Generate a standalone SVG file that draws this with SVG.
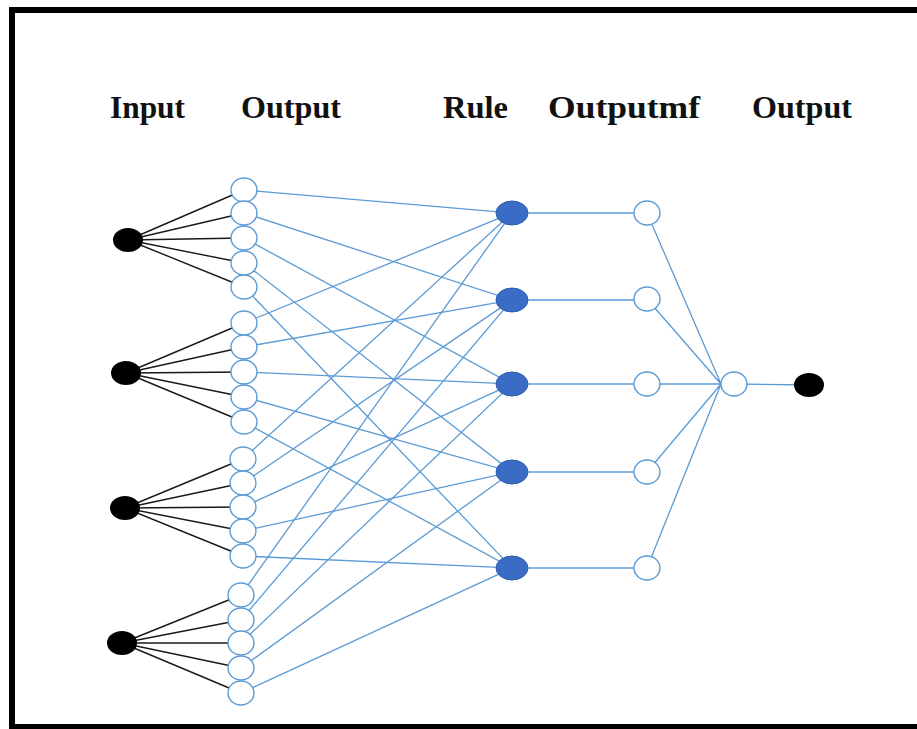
<svg xmlns="http://www.w3.org/2000/svg" width="917" height="729" viewBox="0 0 917 729">
<style>
.lbl{font-family:"Liberation Serif","Times New Roman",serif;font-weight:bold;font-size:31px;fill:#111}
.bl{stroke:#1a1a1a;stroke-width:1.4;fill:none}
.ln{stroke:#5b9bd5;stroke-width:1.3;fill:none}
.mf{fill:#fff;stroke:#5b9bd5;stroke-width:1.4}
.in{fill:#000}
.rule{fill:#3a6cc6;stroke:#2f5fb3;stroke-width:1}
</style>
<rect width="917" height="729" fill="#fff"/>
<path d="M917 10 H12 V727 H917" fill="none" stroke="#000" stroke-width="6"/>
<g id="labels">
<text class="lbl" x="110" y="118" textLength="75" lengthAdjust="spacingAndGlyphs">Input</text>
<text class="lbl" x="241" y="118" textLength="100" lengthAdjust="spacingAndGlyphs">Output</text>
<text class="lbl" x="443" y="118" textLength="65" lengthAdjust="spacingAndGlyphs">Rule</text>
<text class="lbl" x="548" y="118" textLength="152" lengthAdjust="spacingAndGlyphs">Outputmf</text>
<text class="lbl" x="752" y="118" textLength="100" lengthAdjust="spacingAndGlyphs">Output</text>
</g>
<g id="connectors">
<!-- input to MF (black) -->
<path class="bl" d="M128 240 L244 190 M128 240 L244 213 M128 240 L244 238 M128 240 L244 263 M128 240 L244 287"/>
<path class="bl" d="M126 373 L244 323 M126 373 L244 347 M126 373 L244 372 M126 373 L244 397 M126 373 L244 422"/>
<path class="bl" d="M125 508 L243 459 M125 508 L243 483 M125 508 L243 507 M125 508 L243 531 M125 508 L243 556"/>
<path class="bl" d="M122 643 L241 595 M122 643 L241 620 M122 643 L241 643 M122 643 L241 668 M122 643 L241 693"/>
<!-- MF to rules (blue) -->
<path class="ln" d="M244 190 L512 213 M244 213 L512 300 M244 238 L512 384 M244 263 L512 472 M244 287 L512 568"/>
<path class="ln" d="M244 323 L512 213 M244 347 L512 300 M244 372 L512 384 M244 397 L512 472 M244 422 L512 568"/>
<path class="ln" d="M243 459 L512 213 M243 483 L512 300 M243 507 L512 384 M243 531 L512 472 M243 556 L512 568"/>
<path class="ln" d="M241 595 L512 213 M241 620 L512 300 M241 643 L512 384 M241 668 L512 472 M241 693 L512 568"/>
<!-- rules to output mf -->
<path class="ln" d="M512 213 H647 M512 300 H647 M512 384 H647 M512 472 H647 M512 568 H647"/>
<!-- output mf to sum -->
<path class="ln" d="M647 213 L721 384 M647 299 L721 384 M647 384 L721 384 M647 472 L721 384 M647 568 L721 384"/>
<path class="ln" d="M734 384 L809 385"/>
</g>
<g id="inputs">
<ellipse id="in1" class="in" cx="128" cy="240" rx="15" ry="12"/>
<ellipse id="in2" class="in" cx="126" cy="373" rx="15" ry="12"/>
<ellipse id="in3" class="in" cx="125" cy="508" rx="15" ry="12"/>
<ellipse id="in4" class="in" cx="122" cy="643" rx="15" ry="12"/>
</g>
<g id="mfs">
<ellipse class="mf" cx="244" cy="190" rx="13" ry="12"/>
<ellipse class="mf" cx="244" cy="213" rx="13" ry="12"/>
<ellipse class="mf" cx="244" cy="238" rx="13" ry="12"/>
<ellipse class="mf" cx="244" cy="263" rx="13" ry="12"/>
<ellipse class="mf" cx="244" cy="287" rx="13" ry="12"/>
<ellipse class="mf" cx="244" cy="323" rx="13" ry="12"/>
<ellipse class="mf" cx="244" cy="347" rx="13" ry="12"/>
<ellipse class="mf" cx="244" cy="372" rx="13" ry="12"/>
<ellipse class="mf" cx="244" cy="397" rx="13" ry="12"/>
<ellipse class="mf" cx="244" cy="422" rx="13" ry="12"/>
<ellipse class="mf" cx="243" cy="459" rx="13" ry="12"/>
<ellipse class="mf" cx="243" cy="483" rx="13" ry="12"/>
<ellipse class="mf" cx="243" cy="507" rx="13" ry="12"/>
<ellipse class="mf" cx="243" cy="531" rx="13" ry="12"/>
<ellipse class="mf" cx="243" cy="556" rx="13" ry="12"/>
<ellipse class="mf" cx="241" cy="595" rx="13" ry="12"/>
<ellipse class="mf" cx="241" cy="620" rx="13" ry="12"/>
<ellipse class="mf" cx="241" cy="643" rx="13" ry="12"/>
<ellipse class="mf" cx="241" cy="668" rx="13" ry="12"/>
<ellipse class="mf" cx="241" cy="693" rx="13" ry="12"/>
</g>
<g id="rules">
<ellipse class="rule" cx="512" cy="213" rx="16" ry="12"/>
<ellipse class="rule" cx="512" cy="300" rx="16" ry="12"/>
<ellipse class="rule" cx="512" cy="384" rx="16" ry="12"/>
<ellipse class="rule" cx="512" cy="472" rx="16" ry="12"/>
<ellipse class="rule" cx="512" cy="568" rx="16" ry="12"/>
</g>
<g id="outputmfs">
<ellipse class="mf" cx="647" cy="213" rx="13" ry="12"/>
<ellipse class="mf" cx="647" cy="299" rx="13" ry="12"/>
<ellipse class="mf" cx="647" cy="384" rx="13" ry="12"/>
<ellipse class="mf" cx="647" cy="472" rx="13" ry="12"/>
<ellipse class="mf" cx="647" cy="568" rx="13" ry="12"/>
</g>
<g id="sum"><ellipse class="mf" cx="734" cy="384" rx="13" ry="12"/></g>
<g id="output"><ellipse class="in" cx="809" cy="385" rx="15" ry="12"/></g>
</svg>
